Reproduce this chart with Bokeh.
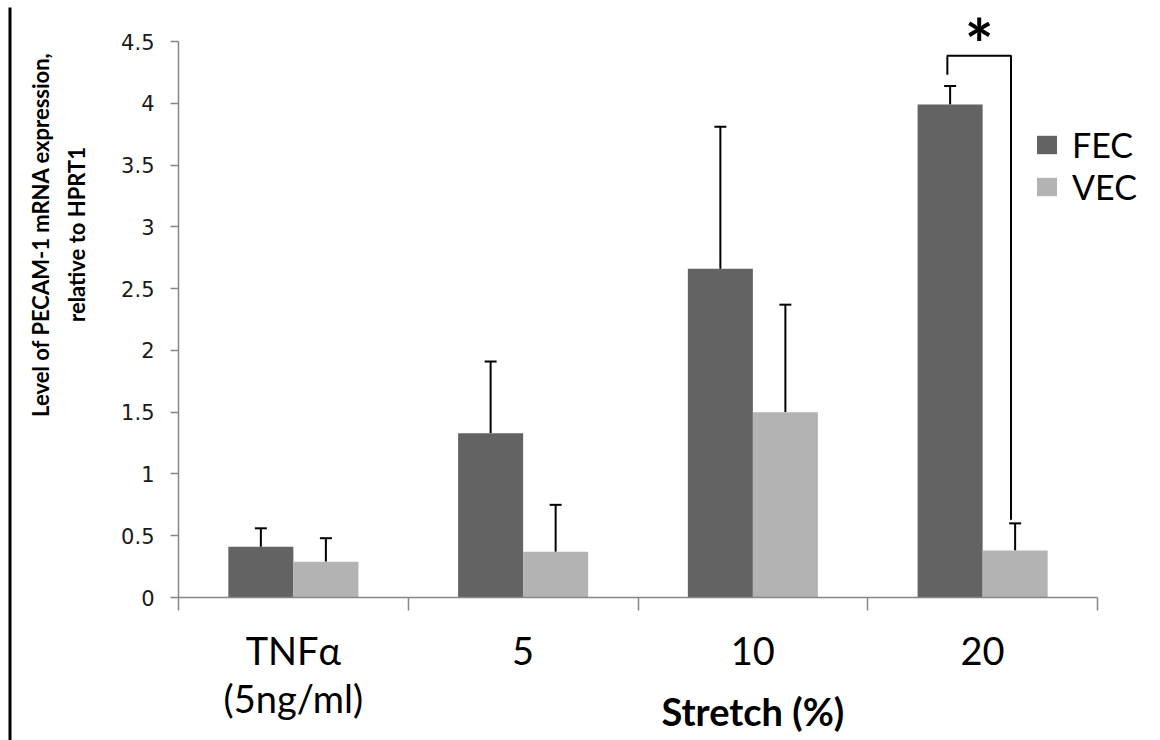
import numpy as np
from bokeh.plotting import figure
from bokeh.models import (ColumnDataSource, FixedTicker, Whisker, TeeHead, Legend,
                          LegendItem, Label, BoxAnnotation, Range1d)
from bokeh.embed import file_html
from bokeh.resources import INLINE

# ---- data -------------------------------------------------------------
categories = ["TNFα\n(5ng/ml)", "5", "10", "20"]
series = ["FEC", "VEC"]
fec_mean = [0.41, 1.33, 2.66, 3.99]
fec_err_top = [0.56, 1.91, 3.81, 4.14]
vec_mean = [0.29, 0.37, 1.50, 0.38]
vec_err_top = [0.48, 0.75, 2.37, 0.60]
y_ticks = [0, 0.5, 1, 1.5, 2, 2.5, 3, 3.5, 4, 4.5]
y_tick_labels = ["0", "0.5", "1", "1.5", "2", "2.5", "3", "3.5", "4", "4.5"]
x_title = "Stretch (%)"
y_title = "Level of PECAM-1 mRNA expression,\nrelative to HPRT1"
sig_mark = "*"
sig_index = 3
colors = ["#636363", "#b3b3b3"]

# ---- page geometry (pixels) ---------------------------------------------
W, H = 1160, 740
ax_left, ax_right, ax_top, ax_bottom = 178, 1097, 41, 597
n = len(categories)
y_max = y_ticks[-1]
ux = (ax_right - ax_left) / n
uy = (ax_bottom - ax_top) / y_max
x_range = Range1d(-ax_left / ux, n + (W - ax_right) / ux)
y_range = Range1d(-(H - ax_bottom) / uy, y_max + ax_top / uy)

centers = np.arange(n) + 0.5
bar_w = 0.283
src = ColumnDataSource(dict(
    x_fec=centers - bar_w / 2, x_vec=centers + bar_w / 2,
    fec=fec_mean, vec=vec_mean, fec_err=fec_err_top, vec_err=vec_err_top))

p = figure(width=W, height=H, x_range=x_range, y_range=y_range,
           output_backend="svg", toolbar_location=None,
           min_border_left=0, min_border_right=0, min_border_top=0, min_border_bottom=0)
p.outline_line_color = None
p.xgrid.visible = False
p.ygrid.visible = False
p.background_fill_color = "white"
p.border_fill_color = "white"

axis_col = "#868686"
xa = p.xaxis[0]
xa.fixed_location = 0
xa.bounds = (0, n)
xa.ticker = FixedTicker(ticks=list(centers), minor_ticks=list(range(n + 1)))
xa.major_label_overrides = {float(c): lab for c, lab in zip(centers, categories)}
xa.major_tick_line_color = None
xa.major_tick_out = 0
xa.major_tick_in = 0
xa.minor_tick_out = 13
xa.minor_tick_in = 0
xa.minor_tick_line_color = axis_col
xa.minor_tick_line_width = 1.5
xa.axis_line_color = axis_col
xa.axis_line_width = 1.5
xa.major_label_text_font = "Lato"
xa.major_label_text_font_size = "38px"
xa.major_label_text_color = "black"
xa.major_label_text_line_height = 1.05
xa.major_label_standoff = 16

ya = p.yaxis[0]
ya.fixed_location = 0
ya.bounds = (0, y_max)
ya.ticker = FixedTicker(ticks=y_ticks, minor_ticks=[])
ya.major_label_overrides = {float(t): lab for t, lab in zip(y_ticks, y_tick_labels)}
ya.major_tick_out = 8
ya.major_tick_in = 0
ya.minor_tick_line_color = None
ya.major_tick_line_color = axis_col
ya.major_tick_line_width = 1.5
ya.axis_line_color = axis_col
ya.axis_line_width = 1.5
ya.major_label_text_font = "DejaVu Sans"
ya.major_label_text_font_size = "21px"
ya.major_label_text_color = "#1a1a1a"
ya.major_label_standoff = 16

r_fec = p.vbar(x="x_fec", top="fec", width=bar_w, source=src,
               fill_color=colors[0], line_color=None)
r_vec = p.vbar(x="x_vec", top="vec", width=bar_w, source=src,
               fill_color=colors[1], line_color=None)

for base, lo, up in [("x_fec", "fec", "fec_err"), ("x_vec", "vec", "vec_err")]:
    p.add_layout(Whisker(source=src, base=base, lower=lo, upper=up,
                         upper_head=TeeHead(size=12, line_width=2, line_color="black"),
                         lower_head=None, line_width=2, line_color="black"))

# significance bracket between FEC and VEC at 20 %
xl = centers[sig_index] - bar_w / 2 - 0.012
xr = centers[sig_index] + bar_w / 2 - 0.018
ytop = fec_err_top[sig_index] + 0.245
yl = fec_err_top[sig_index] + 0.09
yr = vec_err_top[sig_index] + 0.03
p.line(x=[xl, xl, xr, xr], y=[yl, ytop, ytop, yr], line_width=2, line_color="black")
p.add_layout(Label(x=(xl + xr) / 2, y=ytop + 0.10, text=sig_mark, text_align="center",
                   text_baseline="middle", text_font="Lato", text_font_style="bold",
                   text_font_size="68px", text_color="black"))

# axis titles
p.add_layout(Label(x=float(np.mean(centers[1:])), y=H - 710, y_units="screen", text=x_title,
                   text_align="center", text_baseline="alphabetic", text_font="Lato",
                   text_font_style="bold", text_font_size="38px", text_color="black"))
p.add_layout(Label(x=58, y=H - 234, x_units="screen", y_units="screen", text=y_title,
                   angle=np.pi / 2, text_align="center", text_baseline="middle",
                   text_font="Lato", text_font_style="bold", text_font_size="22px",
                   text_line_height=1.3, text_color="black"))

legend = Legend(items=[LegendItem(label=series[0], renderers=[r_fec]),
                       LegendItem(label=series[1], renderers=[r_vec])],
                location=(1034, H - 207), padding=0, margin=0, spacing=1,
                glyph_width=25, glyph_height=23, label_standoff=13,
                label_text_font="Lato", label_text_font_size="34px",
                label_text_color="black", border_line_color=None,
                background_fill_alpha=0)
p.add_layout(legend)

# left black rule of the original figure panel
p.add_layout(BoxAnnotation(left=8, right=11, bottom=0, top=H - 7,
                           left_units="screen", right_units="screen",
                           top_units="screen", bottom_units="screen",
                           fill_color="black", fill_alpha=1, line_color=None))

open("out.html", "w").write(file_html(p, INLINE))
